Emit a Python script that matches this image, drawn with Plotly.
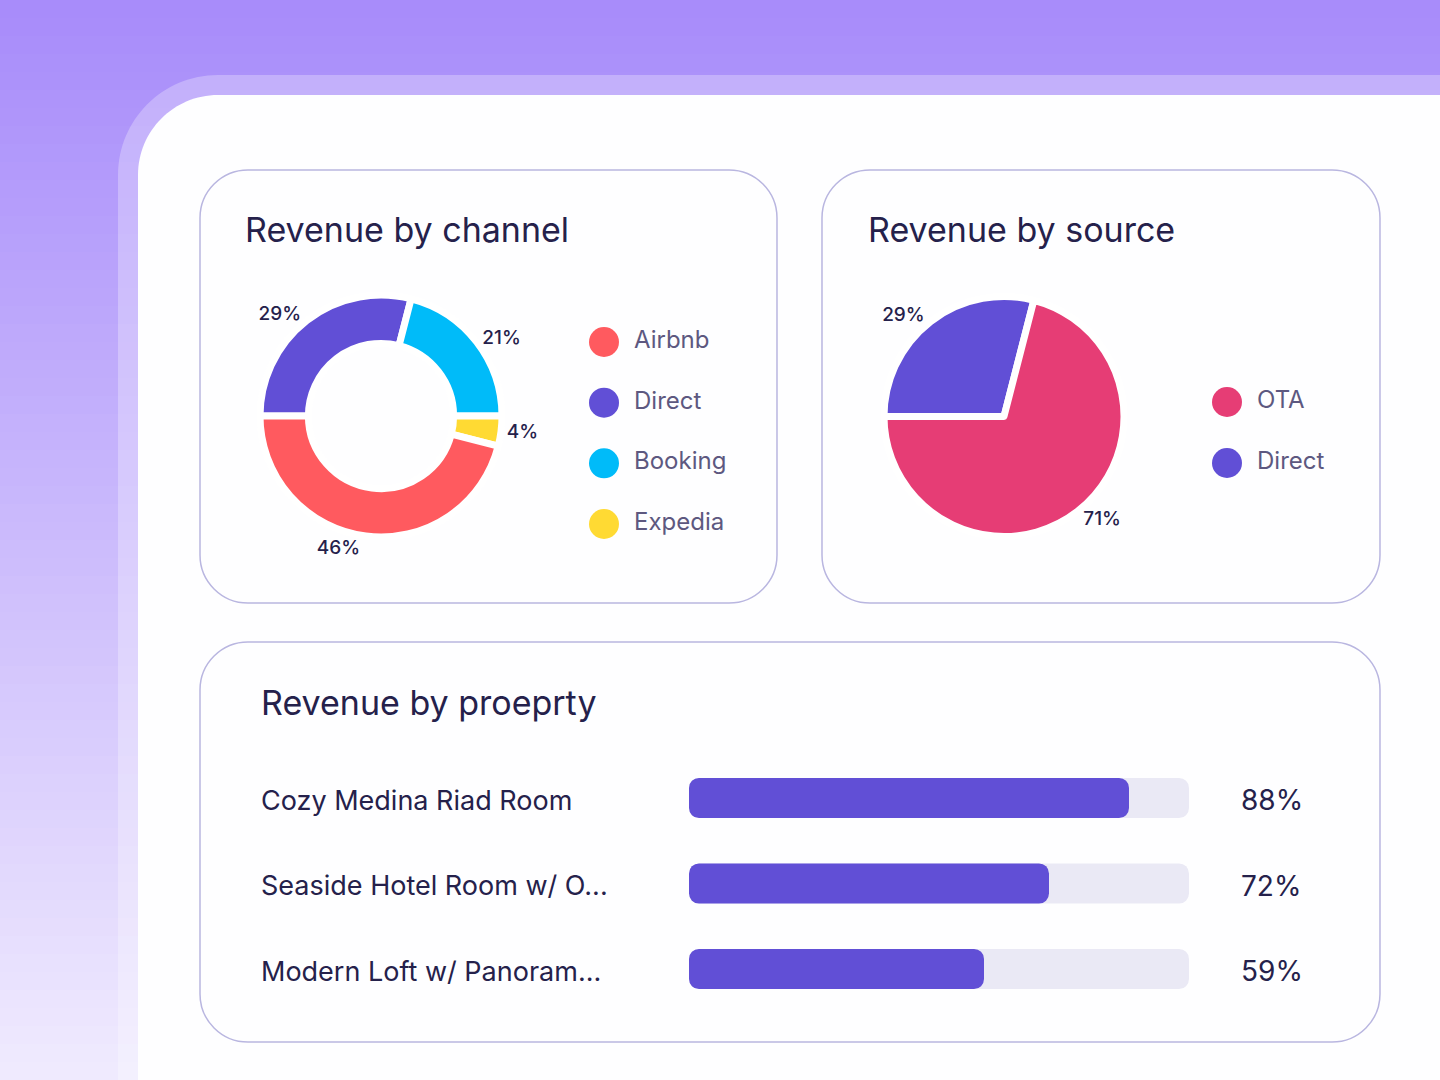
import plotly.graph_objects as go

# ---- data -------------------------------------------------------------
channel_labels = ["Direct", "Booking", "Expedia", "Airbnb"]
channel_values = [29, 21, 4, 46]
channel_colors = ["#614FD6", "#00BBF9", "#FFDA33", "#FF5A5F"]
channel_legend = ["Airbnb", "Direct", "Booking", "Expedia"]

source_labels = ["Direct", "OTA"]
source_values = [29, 71]
source_colors = ["#614FD6", "#E63D75"]
source_legend = ["OTA", "Direct"]

property_names = ["Cozy Medina Riad Room", "Seaside Hotel Room w/ O...", "Modern Loft w/ Panoram..."]
property_share = [88, 72, 59]
property_track = [100, 100, 100]

# ---- style ------------------------------------------------------------
W, H = 1440, 1080
FONT = "Inter"
DARK = "#25214B"
MUTED = "#5D5880"
BORDER = "#B9B6E0"
TRACK = "#EAE9F5"
BAR = "#614FD6"
K = 0.5523
# a bar that does not touch zero gets both ends rounded by plotly
FLOAT_BASE = 0.001


def px(x):
    return x / W


def py(y):
    return 1 - y / H


def pt(x, y):
    return f"{px(x):.5f},{py(y):.5f}"


def rounded_rect(x0, y0, x1, y1, r):
    k = r * (1 - K)
    return (
        f"M {pt(x0 + r, y0)} L {pt(x1 - r, y0)} "
        f"C {pt(x1 - k, y0)} {pt(x1, y0 + k)} {pt(x1, y0 + r)} "
        f"L {pt(x1, y1 - r)} "
        f"C {pt(x1, y1 - k)} {pt(x1 - k, y1)} {pt(x1 - r, y1)} "
        f"L {pt(x0 + r, y1)} "
        f"C {pt(x0 + k, y1)} {pt(x0, y1 - k)} {pt(x0, y1 - r)} "
        f"L {pt(x0, y0 + r)} "
        f"C {pt(x0, y0 + k)} {pt(x0 + k, y0)} {pt(x0 + r, y0)} Z"
    )


def corner_panel(x0, y0, r):
    k = r * (1 - K)
    return (
        f"M {pt(x0, H)} L {pt(x0, y0 + r)} "
        f"C {pt(x0, y0 + k)} {pt(x0 + k, y0)} {pt(x0 + r, y0)} "
        f"L {pt(W, y0)} L {pt(W, H)} Z"
    )


shapes = []

# background gradient, top to bottom
top_rgb = (167, 139, 250)
bot_rgb = (240, 235, 254)
n_strips = 60
step = H / n_strips
for i in range(n_strips):
    t = (i + 0.5) / n_strips
    c = tuple(round(a + (b - a) * t) for a, b in zip(top_rgb, bot_rgb))
    shapes.append(dict(
        type="rect", xref="paper", yref="paper", layer="below",
        x0=0, x1=1, y0=py(min(H, (i + 1) * step + 1)), y1=py(i * step),
        fillcolor=f"rgb{c}", line=dict(width=0),
    ))

# translucent band and white panel
shapes.append(dict(type="path", xref="paper", yref="paper", layer="below",
                   path=corner_panel(118, 75, 100),
                   fillcolor="rgba(255,255,255,0.28)", line=dict(width=0)))
shapes.append(dict(type="path", xref="paper", yref="paper", layer="below",
                   path=corner_panel(138, 95, 80),
                   fillcolor="#FEFEFF", line=dict(width=0)))

# cards
for box in [(200, 170, 777, 603), (822, 170, 1380, 603), (200, 642, 1380, 1042)]:
    shapes.append(dict(type="path", xref="paper", yref="paper", layer="below",
                       path=rounded_rect(*box, 48),
                       fillcolor="#FEFEFF", line=dict(color=BORDER, width=1.5)))

fig = go.Figure()

# ---- donut: revenue by channel ----------------------------------------
fig.add_trace(go.Pie(
    labels=channel_labels, values=channel_values, hole=0.6,
    sort=False, direction="clockwise", rotation=270,
    marker=dict(colors=channel_colors, line=dict(color="white", width=7)),
    textposition="outside", texttemplate="%{value}%",
    textfont=dict(family=FONT, size=19, color=DARK, weight=500),
    domain=dict(x=[px(260), px(502)], y=[py(537), py(295)]),
    showlegend=False, hoverinfo="label+percent",
))

# ---- pie: revenue by source -------------------------------------------
fig.add_trace(go.Pie(
    labels=source_labels, values=source_values,
    sort=False, direction="clockwise", rotation=270,
    marker=dict(colors=source_colors, line=dict(color="white", width=7)),
    textposition="outside", texttemplate="%{value}%",
    textfont=dict(family=FONT, size=19, color=DARK, weight=500),
    domain=dict(x=[px(884), px(1124)], y=[py(536.5), py(296.5)]),
    showlegend=False, hoverinfo="label+percent",
))

# ---- custom legends ----------------------------------------------------
channel_color_map = dict(zip(channel_labels, channel_colors))
source_color_map = dict(zip(source_labels, source_colors))

for legend_items, cmap, xa, ya in [
    (channel_legend, channel_color_map, "x2", "y2"),
    (source_legend, source_color_map, "x3", "y3"),
]:
    rows = list(range(len(legend_items)))
    fig.add_trace(go.Scatter(
        x=[0] * len(rows), y=rows, mode="markers", xaxis=xa, yaxis=ya,
        marker=dict(size=30, color=[cmap[n] for n in legend_items]),
        cliponaxis=False, showlegend=False, hoverinfo="skip",
    ))
    fig.add_trace(go.Scatter(
        x=[30] * len(rows), y=rows, mode="text", xaxis=xa, yaxis=ya,
        text=legend_items, textposition="middle right",
        textfont=dict(family=FONT, size=24, color=MUTED),
        cliponaxis=False, showlegend=False, hoverinfo="skip",
    ))

# ---- bars: revenue by property ----------------------------------------
for values, color, hover in [(property_track, TRACK, "skip"), (property_share, BAR, None)]:
    fig.add_trace(go.Bar(
        x=values, base=[FLOAT_BASE] * len(values), y=property_names,
        orientation="h", width=0.47,
        marker=dict(color=color, cornerradius=10, line=dict(width=0)),
        showlegend=False, hoverinfo=hover,
        customdata=values, hovertemplate="%{y}: %{customdata}%<extra></extra>",
    ))

annotations = []
for name, share in zip(property_names, property_share):
    annotations.append(dict(
        xref="paper", yref="y", x=px(259), y=name, text=name, showarrow=False,
        xanchor="left", yanchor="middle", yshift=-2,
        font=dict(family=FONT, size=27, color=DARK),
    ))
    annotations.append(dict(
        xref="paper", yref="y", x=px(1239), y=name, text=f"{share}%", showarrow=False,
        xanchor="left", yanchor="middle", yshift=-2,
        font=dict(family=FONT, size=28, color=DARK),
    ))

for title, x, y in [("Revenue by channel", 243, 229),
                    ("Revenue by source", 866, 229),
                    ("Revenue by proeprty", 259, 702)]:
    annotations.append(dict(
        xref="paper", yref="paper", x=px(x), y=py(y), text=title, showarrow=False,
        xanchor="left", yanchor="middle",
        font=dict(family=FONT, size=34, color=DARK),
    ))

hidden = dict(visible=False, fixedrange=True)
row_px = 85.5
leg1_top, leg1_gap = 342, 60.67
leg2_top, leg2_gap = 402, 61
fig.update_layout(
    width=W, height=H,
    margin=dict(l=0, r=0, t=0, b=0),
    paper_bgcolor="#FEFEFF", plot_bgcolor="rgba(0,0,0,0)",
    barmode="overlay",
    shapes=shapes, annotations=annotations,
    font=dict(family=FONT, color=DARK),
    xaxis=dict(domain=[px(689), px(1189)], range=[0, 100], **hidden),
    yaxis=dict(domain=[py(798 + 2.5 * row_px), py(798 - 0.5 * row_px)],
               type="category", range=[2.5, -0.5], **hidden),
    xaxis2=dict(domain=[px(604), px(804)], range=[0, 200], anchor="y2", **hidden),
    yaxis2=dict(domain=[py(leg1_top + 3.5 * leg1_gap), py(leg1_top - 0.5 * leg1_gap)],
                range=[3.5, -0.5], anchor="x2", **hidden),
    xaxis3=dict(domain=[px(1227), px(1427)], range=[0, 200], anchor="y3", **hidden),
    yaxis3=dict(domain=[py(leg2_top + 1.5 * leg2_gap), py(leg2_top - 0.5 * leg2_gap)],
                range=[1.5, -0.5], anchor="x3", **hidden),
)

fig.write_html(
    "out.html",
    config={"displayModeBar": False},
    post_script="document.body.style.margin = '0';",
)
